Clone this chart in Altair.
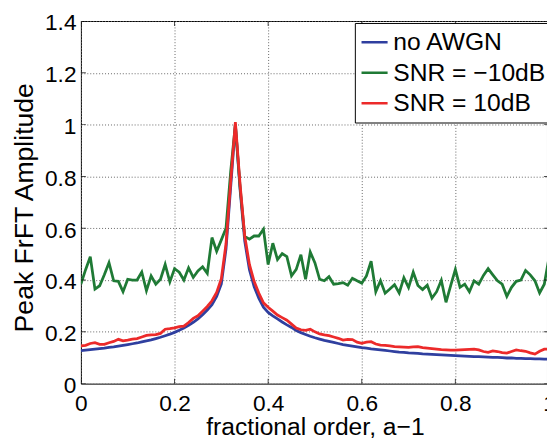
import altair as alt
import pandas as pd

# fractional order sampling grid (0 .. 1 in steps of 0.01)
orders = [i / 100 for i in range(101)]

no_awgn = [
    0.127, 0.129, 0.131, 0.133, 0.135, 0.137, 0.140, 0.142, 0.145, 0.148,
    0.151, 0.154, 0.157, 0.161, 0.165, 0.169, 0.174, 0.179, 0.185, 0.191,
    0.198, 0.206, 0.215, 0.225, 0.237, 0.250, 0.266, 0.284, 0.305, 0.337,
    0.385, 0.520, 0.760, 1.000,
    0.750, 0.550, 0.440, 0.375, 0.330, 0.295, 0.275, 0.262, 0.250, 0.238,
    0.227, 0.217, 0.205, 0.197, 0.190, 0.183, 0.177, 0.172, 0.167, 0.163,
    0.159, 0.155, 0.151, 0.148, 0.145, 0.142, 0.139, 0.137, 0.134, 0.132,
    0.130, 0.128, 0.126, 0.124, 0.122, 0.121, 0.119, 0.118, 0.117, 0.115,
    0.114, 0.113, 0.112, 0.111, 0.110, 0.109, 0.108, 0.107, 0.106, 0.105,
    0.104, 0.104, 0.103, 0.102, 0.101, 0.101, 0.100, 0.099, 0.099, 0.098,
    0.098, 0.097, 0.097, 0.096, 0.096, 0.095, 0.095,
]

snr_minus10 = [
    0.384, 0.440, 0.490, 0.365, 0.378, 0.420, 0.467, 0.397, 0.395, 0.355,
    0.403, 0.400, 0.400, 0.431, 0.359, 0.416, 0.384, 0.403, 0.460, 0.393,
    0.444, 0.430, 0.400, 0.447, 0.410, 0.435, 0.451, 0.426, 0.564, 0.511,
    0.555, 0.600, 0.820, 1.000, 0.760, 0.568, 0.558, 0.570, 0.570, 0.596,
    0.460, 0.542, 0.479, 0.502, 0.490, 0.416, 0.441, 0.498, 0.403, 0.508,
    0.466, 0.403, 0.397, 0.413, 0.384, 0.386, 0.390, 0.380, 0.407, 0.397,
    0.388, 0.416, 0.473, 0.355, 0.397, 0.349, 0.365, 0.382, 0.350, 0.409,
    0.371, 0.430, 0.379, 0.363, 0.380, 0.330, 0.355, 0.399, 0.314, 0.378,
    0.441, 0.372, 0.384, 0.355, 0.397, 0.384, 0.418, 0.444, 0.420, 0.397,
    0.384, 0.337, 0.372, 0.395, 0.400, 0.437, 0.420, 0.397, 0.350, 0.384,
    0.486,
]

snr_plus10 = [
    0.146, 0.148, 0.155, 0.158, 0.152, 0.152, 0.158, 0.163, 0.171, 0.165,
    0.168, 0.172, 0.174, 0.180, 0.186, 0.188, 0.189, 0.194, 0.210, 0.212,
    0.215, 0.220, 0.222, 0.236, 0.252, 0.262, 0.280, 0.298, 0.320, 0.352,
    0.405, 0.540, 0.780, 1.010,
    0.770, 0.570, 0.460, 0.395, 0.350, 0.312, 0.295, 0.280, 0.265, 0.255,
    0.245, 0.230, 0.215, 0.208, 0.206, 0.210, 0.200, 0.192, 0.188, 0.185,
    0.180, 0.175, 0.168, 0.171, 0.170, 0.160, 0.156, 0.160, 0.162, 0.153,
    0.149, 0.148, 0.146, 0.143, 0.142, 0.141, 0.140, 0.142, 0.143, 0.139,
    0.137, 0.135, 0.133, 0.131, 0.130, 0.129, 0.129, 0.130, 0.131, 0.132,
    0.133, 0.130, 0.124, 0.121, 0.126, 0.124, 0.120, 0.118, 0.124, 0.130,
    0.127, 0.125, 0.119, 0.114, 0.125, 0.133, 0.133,
]

x_ticks = [0, 0.2, 0.4, 0.6, 0.8, 1]
y_ticks = [0, 0.2, 0.4, 0.6, 0.8, 1, 1.2, 1.4]

series_names = ["no AWGN", "SNR = \u221210dB", "SNR = 10dB"]
series_colors = ["#2f3f9f", "#1f7a35", "#ec2a2a"]

rows = []
for name, vals in zip(series_names, [no_awgn, snr_minus10, snr_plus10]):
    for xv, yv in zip(orders, vals):
        rows.append({"x": xv, "y": yv, "series": name})
df = pd.DataFrame(rows)

# inward tick marks on all four sides (drawn centred on the frame, then clipped)
vt_rows = [{"x": v, "y": 0} for v in x_ticks] + [{"x": v, "y": 1.4} for v in x_ticks]
ht_rows = [{"x": 0, "y": v} for v in y_ticks] + [{"x": 1, "y": v} for v in y_ticks]
vt_df = pd.DataFrame(vt_rows)
ht_df = pd.DataFrame(ht_rows)

FONT = "Liberation Sans"

xscale = alt.Scale(domain=[0, 1], range=[0, 475], nice=False, zero=False)
yscale = alt.Scale(domain=[0, 1.4], nice=False, zero=False)
cscale = alt.Scale(domain=series_names, range=series_colors)

x_axis = alt.Axis(
    values=x_ticks, format="~g", grid=True, ticks=False, tickSize=0, domain=False,
    labelFlush=False, labelOverlap=False, labelPadding=27, labelBaseline="alphabetic",
    labelFont=FONT, labelFontSize=23, labelColor="black",
    title="fractional order, a\u22121", titleFont=FONT, titleFontSize=25,
    titleFontWeight="normal", titleColor="black", titleBaseline="alphabetic", titleY=52,
    gridColor="#666666", gridDash=[1, 2], gridWidth=1,
)
y_axis = alt.Axis(
    values=y_ticks, format="~g", grid=True, ticks=False, tickSize=0, domain=False,
    labelFlush=False, labelOverlap=False, labelPadding=5, labelOffset=2,
    labelFont=FONT, labelFontSize=23, labelColor="black",
    title="Peak FrFT Amplitude", titleFont=FONT, titleFontSize=27,
    titleFontWeight="normal", titleColor="black", titleAngle=270,
    titleBaseline="alphabetic", titleAlign="center", titleX=-49, titleY=189,
    gridColor="#666666", gridDash=[1, 2], gridWidth=1,
)

legend = alt.Legend(
    orient="none", legendX=278, legendY=2, title=None,
    symbolType="stroke", symbolSize=700, symbolStrokeWidth=2.6,
    clipHeight=29, rowPadding=2, padding=5,
    strokeColor="black", fillColor="white", cornerRadius=0,
    labelFont=FONT, labelFontSize=25, labelColor="black", labelOffset=4, labelLimit=0,
)

X = alt.X("x:Q", scale=xscale, axis=x_axis)
Y = alt.Y("y:Q", scale=yscale, axis=y_axis)

base = alt.Chart(df).encode(
    x=X, y=Y,
    color=alt.Color("series:N", scale=cscale, legend=legend),
)

lines = [
    base.transform_filter(alt.datum.series == name).mark_line(strokeWidth=2.8, clip=True)
    for name in series_names
]

vticks = alt.Chart(vt_df).mark_tick(
    orient="vertical", size=10, thickness=1, color="black", clip=True
).encode(x=X, y=Y)
hticks = alt.Chart(ht_df).mark_tick(
    orient="horizontal", size=10, thickness=1, color="black", clip=True
).encode(x=X, y=Y)

chart = alt.layer(*lines, vticks, hticks).properties(
    width=473, height=368,
    padding={"left": 74, "top": 10, "right": 0, "bottom": 55},
    autosize=alt.AutoSizeParams(type="none"),
    background="white",
).configure_view(stroke="black", strokeWidth=1)

chart.save("out.html", embed_options={"renderer": "svg", "actions": False})
